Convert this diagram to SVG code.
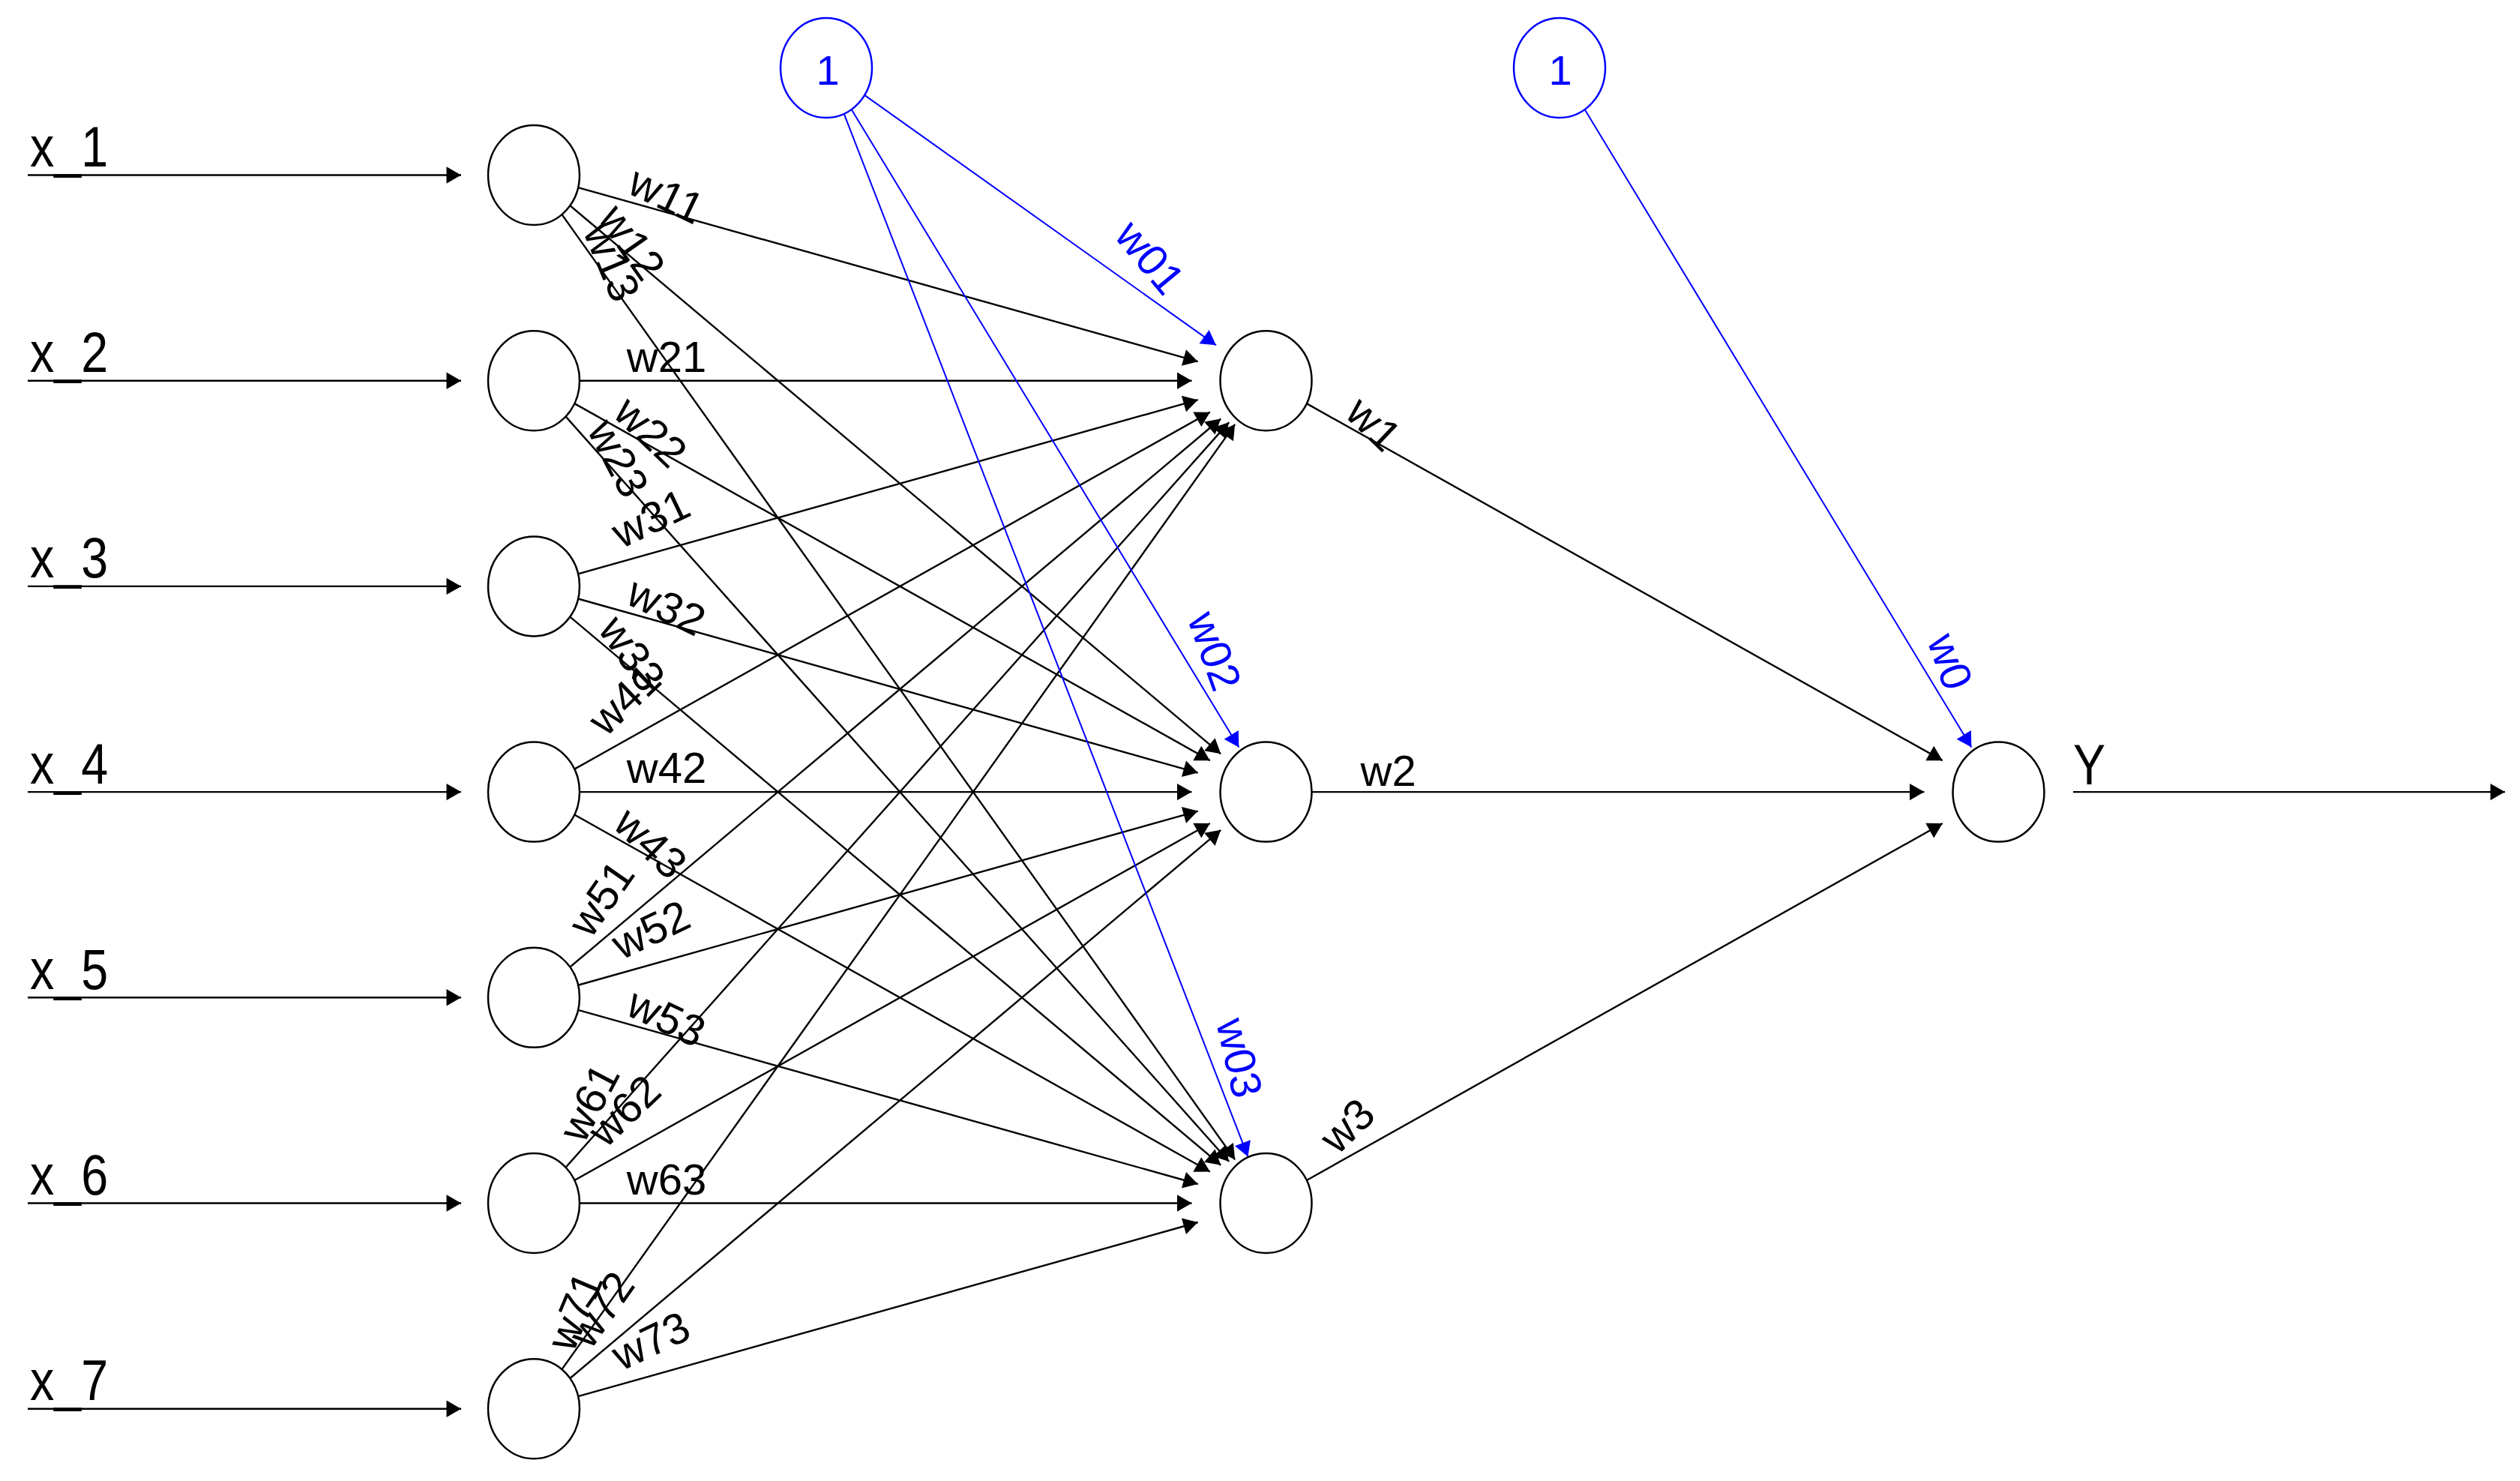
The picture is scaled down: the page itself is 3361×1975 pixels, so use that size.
<svg xmlns="http://www.w3.org/2000/svg" width="3361" height="1975" viewBox="0 0 3361 1975">
<style>
.nd{fill:#fff;stroke:#000;stroke-width:2.5}
.bn{fill:#fff;stroke:#00f;stroke-width:2.5}
.ln{stroke:#000;stroke-width:2.4;fill:none;marker-end:url(#ah)}
.bl{stroke:#00f;stroke-width:2;fill:none;marker-end:url(#ahb)}
.wl{font-family:"Liberation Sans",Arial,Helvetica,sans-serif;font-size:58px;fill:#000;text-anchor:middle}
.wb{font-family:"Liberation Sans",Arial,Helvetica,sans-serif;font-size:58px;fill:#00f;text-anchor:middle}
.big{font-family:"Liberation Sans",Arial,Helvetica,sans-serif;font-size:76px;fill:#000}
</style>
<defs>
<marker id="ah" markerUnits="userSpaceOnUse" markerWidth="24" markerHeight="26" viewBox="-21 -13 22 26" refX="0" refY="0" orient="auto"><path d="M0,0 L-19.5,-11.2 L-19.5,11.2 Z" fill="#000"/></marker>
<marker id="ahb" markerUnits="userSpaceOnUse" markerWidth="24" markerHeight="26" viewBox="-21 -13 22 26" refX="0" refY="0" orient="auto"><path d="M0,0 L-19.5,-11.2 L-19.5,11.2 Z" fill="#00f"/></marker>
</defs>
<rect width="3361" height="1975" fill="#fff"/>

<g id="connectors">
<line class="ln" x1="37" y1="233.5" x2="615" y2="233.5"/>
<line class="ln" x1="37" y1="507.7" x2="615" y2="507.7"/>
<line class="ln" x1="37" y1="781.9" x2="615" y2="781.9"/>
<line class="ln" x1="37" y1="1056.1" x2="615" y2="1056.1"/>
<line class="ln" x1="37" y1="1330.3" x2="615" y2="1330.3"/>
<line class="ln" x1="37" y1="1604.5" x2="615" y2="1604.5"/>
<line class="ln" x1="37" y1="1878.7" x2="615" y2="1878.7"/>
<line class="ln" x1="771.07" y1="250.08" x2="1597.7" y2="482.21"/>
<line class="ln" x1="760.27" y1="274.16" x2="1628.23" y2="1005.33"/>
<line class="ln" x1="749.41" y1="286.03" x2="1647.1" y2="1546.37"/>
<line class="ln" x1="773" y1="507.7" x2="1589.5" y2="507.7"/>
<line class="ln" x1="766.22" y1="538.15" x2="1613.77" y2="1014.13"/>
<line class="ln" x1="754.49" y1="555.42" x2="1639.11" y2="1549.03"/>
<line class="ln" x1="771.07" y1="765.32" x2="1597.7" y2="533.19"/>
<line class="ln" x1="771.07" y1="798.48" x2="1597.7" y2="1030.61"/>
<line class="ln" x1="760.27" y1="822.56" x2="1628.23" y2="1553.73"/>
<line class="ln" x1="766.22" y1="1025.65" x2="1613.77" y2="549.67"/>
<line class="ln" x1="773" y1="1056.1" x2="1589.5" y2="1056.1"/>
<line class="ln" x1="766.22" y1="1086.55" x2="1613.77" y2="1562.53"/>
<line class="ln" x1="760.27" y1="1289.64" x2="1628.23" y2="558.47"/>
<line class="ln" x1="771.07" y1="1313.72" x2="1597.7" y2="1081.59"/>
<line class="ln" x1="771.07" y1="1346.88" x2="1597.7" y2="1579.01"/>
<line class="ln" x1="754.49" y1="1556.78" x2="1639.11" y2="563.17"/>
<line class="ln" x1="766.22" y1="1574.05" x2="1613.77" y2="1098.07"/>
<line class="ln" x1="773" y1="1604.5" x2="1589.5" y2="1604.5"/>
<line class="ln" x1="749.41" y1="1826.17" x2="1647.1" y2="565.83"/>
<line class="ln" x1="760.27" y1="1838.04" x2="1628.23" y2="1106.87"/>
<line class="ln" x1="771.07" y1="1862.12" x2="1597.7" y2="1630"/>
<line class="ln" x1="1742.72" y1="538.15" x2="2590.77" y2="1014.13"/>
<line class="ln" x1="1749.5" y1="1056.1" x2="2566.5" y2="1056.1"/>
<line class="ln" x1="1742.72" y1="1574.05" x2="2590.77" y2="1098.07"/>
<line class="ln" x1="2765" y1="1056.1" x2="3341" y2="1056.1"/>
<line class="bl" x1="1153.09" y1="126.84" x2="1621.92" y2="460.34"/>
<line class="bl" x1="1135.67" y1="145.94" x2="1652.32" y2="996.53"/>
<line class="bl" x1="1125.73" y1="151.77" x2="1664.45" y2="1542.41"/>
<line class="bl" x1="2113.62" y1="145.97" x2="2629.37" y2="996.5"/>

<g id="weight-labels">
<text class="wl" transform="translate(889.4,259.2) rotate(25.5)" y="21">w11</text>
<text class="wl" transform="translate(843.8,322.5) rotate(55.1)" y="21">w12</text>
<text class="wl" transform="translate(817,349.2) rotate(67.3)" y="21">w13</text>
<text class="wl" transform="translate(889,474.7)" y="21">w21</text>
<text class="wl" transform="translate(868.5,575.2) rotate(43.7)" y="21">w22</text>
<text class="wl" transform="translate(825.6,610.6) rotate(62.4)" y="21">w23</text>
<text class="wl" transform="translate(867.6,690.4) rotate(-25.5)" y="21">w31</text>
<text class="wl" transform="translate(889.4,807.6) rotate(25.5)" y="21">w32</text>
<text class="wl" transform="translate(843.8,870.9) rotate(55.1)" y="21">w33</text>
<text class="wl" transform="translate(832,931.8) rotate(-43.7)" y="21">w41</text>
<text class="wl" transform="translate(889,1023.1)" y="21">w42</text>
<text class="wl" transform="translate(868.5,1123.6) rotate(43.7)" y="21">w43</text>
<text class="wl" transform="translate(801,1197.3) rotate(-55.1)" y="21">w51</text>
<text class="wl" transform="translate(867.6,1238.8) rotate(-25.5)" y="21">w52</text>
<text class="wl" transform="translate(889.4,1356) rotate(25.5)" y="21">w53</text>
<text class="wl" transform="translate(784.9,1469.5) rotate(-62.4)" y="21">w61</text>
<text class="wl" transform="translate(832,1480.2) rotate(-43.7)" y="21">w62</text>
<text class="wl" transform="translate(889,1571.5)" y="21">w63</text>
<text class="wl" transform="translate(765.6,1747.9) rotate(-67.3)" y="21">w71</text>
<text class="wl" transform="translate(801,1745.7) rotate(-55.1)" y="21">w72</text>
<text class="wl" transform="translate(867.6,1787.2) rotate(-25.5)" y="21">w73</text>
<text class="wl" transform="translate(1833,564.5) rotate(43.7)" y="21">w1</text>
<text class="wl" transform="translate(1851.6,1026.5)" y="21">w2</text>
<text class="wl" transform="translate(1796,1500.5) rotate(-43.7)" y="21">w3</text>
<text class="wb" transform="translate(1534.7,342.5) rotate(50.4)" y="21">w01</text>
<text class="wb" transform="translate(1621,868) rotate(70.3)" y="21">w02</text>
<text class="wb" transform="translate(1654,1410.5) rotate(77.2)" y="21">w03</text>
<text class="wb" transform="translate(2602,882) rotate(70.4)" y="21">w0</text>
</g>
</g>

<g id="input-1"><ellipse class="nd" cx="712" cy="233.5" rx="61" ry="66.5"/><text class="big" transform="translate(40,222) scale(0.85,1)">x_1</text></g>
<g id="input-2"><ellipse class="nd" cx="712" cy="507.7" rx="61" ry="66.5"/><text class="big" transform="translate(40,496.2) scale(0.85,1)">x_2</text></g>
<g id="input-3"><ellipse class="nd" cx="712" cy="781.9" rx="61" ry="66.5"/><text class="big" transform="translate(40,770.4) scale(0.85,1)">x_3</text></g>
<g id="input-4"><ellipse class="nd" cx="712" cy="1056.1" rx="61" ry="66.5"/><text class="big" transform="translate(40,1044.6) scale(0.85,1)">x_4</text></g>
<g id="input-5"><ellipse class="nd" cx="712" cy="1330.3" rx="61" ry="66.5"/><text class="big" transform="translate(40,1318.8) scale(0.85,1)">x_5</text></g>
<g id="input-6"><ellipse class="nd" cx="712" cy="1604.5" rx="61" ry="66.5"/><text class="big" transform="translate(40,1593) scale(0.85,1)">x_6</text></g>
<g id="input-7"><ellipse class="nd" cx="712" cy="1878.7" rx="61" ry="66.5"/><text class="big" transform="translate(40,1867.2) scale(0.85,1)">x_7</text></g>

<g id="hidden-1"><ellipse class="nd" cx="1688.5" cy="507.7" rx="61" ry="66.5"/></g>
<g id="hidden-2"><ellipse class="nd" cx="1688.5" cy="1056.1" rx="61" ry="66.5"/></g>
<g id="hidden-3"><ellipse class="nd" cx="1688.5" cy="1604.5" rx="61" ry="66.5"/></g>

<g id="output"><ellipse class="nd" cx="2665.5" cy="1056.1" rx="61" ry="66.5"/><text class="big" transform="translate(2765,1046) scale(0.85,1)">Y</text></g>

<g id="bias-1"><ellipse class="bn" cx="1102" cy="90.5" rx="61" ry="66.5"/><text class="wb" x="1104" y="113" style="font-size:56px">1</text></g>
<g id="bias-2"><ellipse class="bn" cx="2080" cy="90.5" rx="61" ry="66.5"/><text class="wb" x="2081" y="113" style="font-size:56px">1</text></g>
</svg>
